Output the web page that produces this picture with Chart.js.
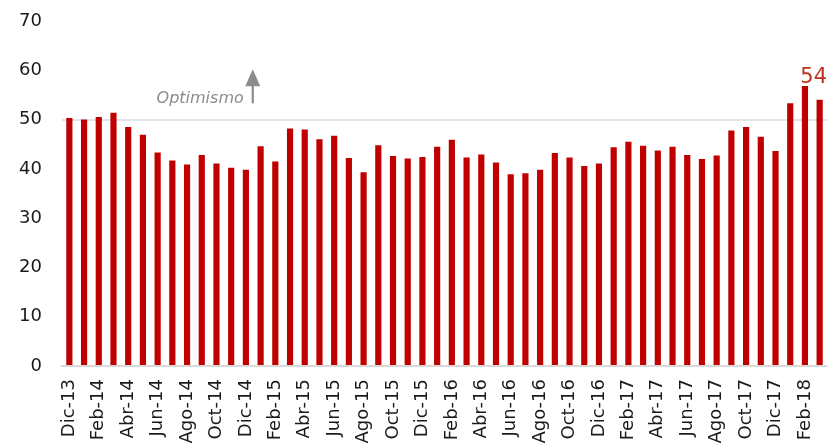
<!DOCTYPE html>
<html>
<head>
<meta charset="utf-8">
<script src="https://cdn.jsdelivr.net/npm/chart.js@4/dist/chart.umd.min.js"></script>
<style>
  html, body { margin: 0; padding: 0; background: #ffffff; }
  #wrap { width: 827px; height: 444px; position: relative; }
</style>
</head>
<body>
<div id="wrap"><canvas id="c"></canvas></div>
<script>
// Monthly index, Dec-2013 to Mar-2018
const months = [
  'Dic-13',
  'Ene-14','Feb-14','Mar-14','Abr-14','May-14','Jun-14','Jul-14','Ago-14','Sep-14','Oct-14','Nov-14','Dic-14',
  'Ene-15','Feb-15','Mar-15','Abr-15','May-15','Jun-15','Jul-15','Ago-15','Sep-15','Oct-15','Nov-15','Dic-15',
  'Ene-16','Feb-16','Mar-16','Abr-16','May-16','Jun-16','Jul-16','Ago-16','Sep-16','Oct-16','Nov-16','Dic-16',
  'Ene-17','Feb-17','Mar-17','Abr-17','May-17','Jun-17','Jul-17','Ago-17','Sep-17','Oct-17','Nov-17','Dic-17',
  'Ene-18','Feb-18','Mar-18'
];

const indexValues = [
  50.3,
  50.0, 50.5, 51.4, 48.5, 46.9, 43.3, 41.7, 40.9, 42.8, 41.1, 40.2, 39.8,
  44.6, 41.5, 48.2, 48.0, 46.0, 46.7, 42.2, 39.3, 44.8, 42.6, 42.1, 42.4,
  44.5, 45.9, 42.3, 42.9, 41.3, 38.9, 39.1, 39.8, 43.2, 42.3, 40.6, 41.1,
  44.4, 45.5, 44.7, 43.7, 44.5, 42.8, 42.0, 42.7, 47.8, 48.5, 46.5, 43.6,
  53.3, 56.8, 54
];

const yTicks = [0, 10, 20, 30, 40, 50, 60, 70];
const neutralLevel = 50;
const latestLabel = '54';
const arrowText = 'Optimismo';

const FONT = '"DejaVu Sans", Verdana, sans-serif';

// Annotations: latest value label and the "Optimismo" arrow
const annotations = {
  id: 'annotations',
  afterDatasetsDraw(chart) {
    const ctx = chart.ctx;
    const xs = chart.scales.x, ys = chart.scales.y;
    const last = indexValues.length - 1;

    ctx.save();
    // latest value
    ctx.fillStyle = '#c0301c';
    ctx.font = '21px ' + FONT;
    ctx.textAlign = 'right';
    ctx.textBaseline = 'alphabetic';
    ctx.fillText(latestLabel, chart.chartArea.right, ys.getPixelForValue(indexValues[last]) - 17);

    // "Optimismo" with upward arrow
    const ax = (xs.getPixelForValue(12) + xs.getPixelForValue(13)) / 2 - 0.5;
    const baseY = ys.getPixelForValue(53.3);
    ctx.fillStyle = '#8c8c8c';
    ctx.font = 'italic 16px ' + FONT;
    ctx.textAlign = 'right';
    ctx.fillText(arrowText, ax - 9, baseY);

    ctx.strokeStyle = '#8c8c8c';
    ctx.lineWidth = 2.2;
    ctx.beginPath();
    ctx.moveTo(ax, baseY);
    ctx.lineTo(ax, baseY - 19);
    ctx.stroke();
    ctx.beginPath();
    ctx.moveTo(ax - 7.5, baseY - 17);
    ctx.lineTo(ax + 7.5, baseY - 17);
    ctx.lineTo(ax, baseY - 34);
    ctx.closePath();
    ctx.fill();
    ctx.restore();
  }
};

new Chart(document.getElementById('c'), {
  type: 'bar',
  data: {
    labels: months,
    datasets: [{
      data: indexValues,
      backgroundColor: '#c00000',
      borderWidth: 0,
      barPercentage: 0.42,
      categoryPercentage: 1.0
    }]
  },
  options: {
    responsive: true,
    maintainAspectRatio: false,
    animation: false,
    devicePixelRatio: 1,
    layout: { padding: { top: 21, right: 0, left: 0, bottom: 0 } },
    plugins: { legend: { display: false }, tooltip: { enabled: false } },
    scales: {
      x: {
        grid: { display: false, drawTicks: false },
        border: { display: true, color: '#d9d9d9', width: 2 },
        ticks: {
          autoSkip: false,
          maxRotation: 90,
          minRotation: 90,
          padding: 13,
          color: '#1a1a1a',
          font: { family: FONT, size: 18 },
          callback: (v, i) => (i % 2 === 0 ? months[i] : '')
        },
        afterFit(scale) {
          scale.height = 78;
          scale.paddingLeft = 0;
          scale.paddingRight = 0;
          scale.paddingTop = 0;
          scale.paddingBottom = 0;
        }
      },
      y: {
        min: 0,
        max: 70,
        afterBuildTicks(scale) { scale.ticks = yTicks.map(v => ({ value: v })); },
        grid: {
          drawTicks: false,
          lineWidth: 2,
          color: ctx => (ctx.tick && ctx.tick.value === neutralLevel ? '#dfe5e9' : 'rgba(0,0,0,0)')
        },
        border: { display: false },
        ticks: {
          padding: 20,
          color: '#1a1a1a',
          font: { family: FONT, size: 18 }
        },
        afterFit(scale) {
          scale.width = 62;
          scale.paddingTop = 0;
          scale.paddingBottom = 0;
        }
      }
    }
  },
  plugins: [annotations]
});
</script>
</body>
</html>
